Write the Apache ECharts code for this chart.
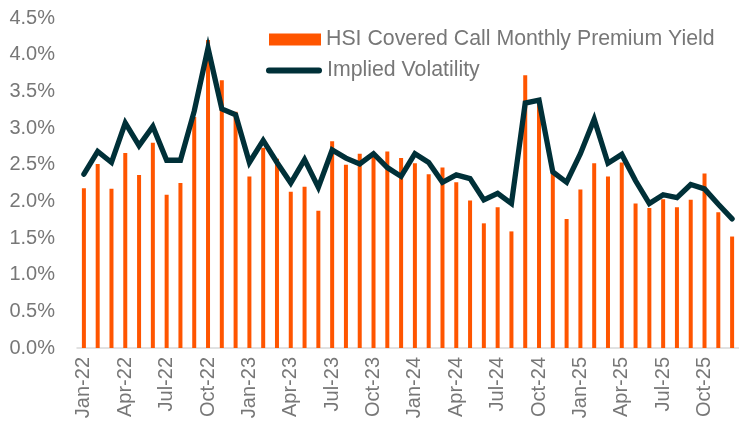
<!DOCTYPE html>
<html>
<head>
<meta charset="utf-8">
<script src="https://cdn.jsdelivr.net/npm/echarts@6/dist/echarts.min.js"></script>
<style>
  html, body { margin: 0; padding: 0; background: #fff; }
  #chart { width: 739px; height: 425px; }
</style>
</head>
<body>
<div id="chart"></div>
<script>
  // months, Jan-22 .. Dec-25
  var months = [
    'Jan-22', 'Feb-22', 'Mar-22', 'Apr-22', 'May-22', 'Jun-22', 'Jul-22', 'Aug-22', 'Sep-22', 'Oct-22', 'Nov-22', 'Dec-22',
    'Jan-23', 'Feb-23', 'Mar-23', 'Apr-23', 'May-23', 'Jun-23', 'Jul-23', 'Aug-23', 'Sep-23', 'Oct-23', 'Nov-23', 'Dec-23',
    'Jan-24', 'Feb-24', 'Mar-24', 'Apr-24', 'May-24', 'Jun-24', 'Jul-24', 'Aug-24', 'Sep-24', 'Oct-24', 'Nov-24', 'Dec-24',
    'Jan-25', 'Feb-25', 'Mar-25', 'Apr-25', 'May-25', 'Jun-25', 'Jul-25', 'Aug-25', 'Sep-25', 'Oct-25', 'Nov-25', 'Dec-25'
  ];

  // HSI covered call monthly premium yield (%)
  var premiumYield = [
    2.18, 2.51, 2.17, 2.66, 2.36, 2.80, 2.09, 2.25, 3.15, 4.20, 3.65, 3.22,
    2.34, 2.73, 2.58, 2.13, 2.20, 1.87, 2.82, 2.50, 2.65, 2.66, 2.68, 2.59,
    2.52, 2.37, 2.46, 2.26, 2.01, 1.70, 1.92, 1.59, 3.72, 3.35, 2.38, 1.76,
    2.16, 2.52, 2.34, 2.53, 1.97, 1.91, 2.03, 1.92, 2.02, 2.38, 1.85, 1.52
  ];

  // implied volatility (same % scale)
  var impliedVol = [
    2.37, 2.68, 2.53, 3.07, 2.76, 3.02, 2.56, 2.56, 3.23, 4.09, 3.26, 3.18,
    2.53, 2.83, 2.53, 2.25, 2.57, 2.19, 2.70, 2.59, 2.51, 2.65, 2.46, 2.34,
    2.65, 2.53, 2.26, 2.36, 2.31, 2.02, 2.11, 1.97, 3.34, 3.38, 2.40, 2.26,
    2.65, 3.12, 2.52, 2.64, 2.28, 1.97, 2.09, 2.05, 2.23, 2.17, 1.96, 1.76
  ];

  var yTicks = { min: 0, max: 4.5, step: 0.5 };

  var textColor = '#777777';
  var fontName = 'Liberation Sans';

  var chart = echarts.init(document.getElementById('chart'));

  var option = {
    animation: false,
    grid: {
      left: 77,
      top: 18,
      width: 667,
      height: 330
    },
    legend: [{
      data: ['HSI Covered Call Monthly Premium Yield'],
      left: 269,
      top: 29,
      padding: 0,
      itemWidth: 52,
      itemHeight: 12,
      icon: 'rect',
      textStyle: { color: textColor, fontSize: 21.3, fontFamily: fontName }
    }, {
      data: ['Implied Volatility'],
      left: 266,
      top: 60,
      padding: 0,
      itemWidth: 56,
      itemHeight: 6,
      icon: 'path://M3,0 L53,0 A3,3 0 0 1 53,6 L3,6 A3,3 0 0 1 3,0 Z',
      textStyle: { color: textColor, fontSize: 21.3, fontFamily: fontName }
    }],
    xAxis: {
      type: 'category',
      data: months,
      boundaryGap: true,
      axisLine: { lineStyle: { color: '#d9d9d9', width: 1.5 } },
      axisTick: {
        interval: 2,
        length: 6,
        lineStyle: { color: '#d9d9d9', width: 1.5 }
      },
      axisLabel: {
        interval: 2,
        rotate: 90,
        margin: 9,
        color: textColor,
        fontSize: 20,
        fontFamily: fontName
      }
    },
    yAxis: {
      type: 'value',
      min: yTicks.min,
      max: yTicks.max,
      interval: yTicks.step,
      axisLine: { show: false },
      axisTick: { show: false },
      splitLine: { show: false },
      axisLabel: {
        margin: 22,
        color: textColor,
        fontSize: 20,
        fontFamily: fontName,
        formatter: function (v) { return v.toFixed(1) + '%'; }
      }
    },
    series: [{
      name: 'HSI Covered Call Monthly Premium Yield',
      type: 'bar',
      data: premiumYield,
      barWidth: 4,
      itemStyle: { color: '#ff5500' }
    }, {
      name: 'Implied Volatility',
      type: 'line',
      data: impliedVol,
      symbol: 'none',
      lineStyle: { color: '#003038', width: 5.3, cap: 'round', join: 'miter' },
      itemStyle: { color: '#003038' }
    }]
  };

  chart.setOption(option);
</script>
</body>
</html>
